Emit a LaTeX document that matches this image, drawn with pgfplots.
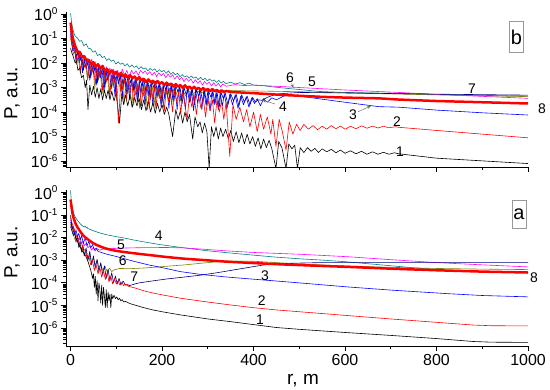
\documentclass[border=0pt]{standalone}
\usepackage{fontspec}
\setmainfont{Liberation Sans}
\usepackage{pgfplots}
\pgfplotsset{compat=1.18}
\usetikzlibrary{arrows.meta}
\newcommand\sct[1]{10\raisebox{6.5bp}{\fontsize{10}{12}\selectfont#1}}
\definecolor{cteal}{RGB}{0,128,128}
\definecolor{cmag}{RGB}{255,0,255}
\definecolor{colive}{RGB}{128,128,0}
\definecolor{cnavy}{RGB}{0,0,128}
\definecolor{cblue}{RGB}{0,0,255}
\definecolor{cred}{RGB}{255,0,0}
\tikzset{
 thinc/.style={line width=0.6bp, line join=round},
 lab/.style={font=\fontsize{14}{16}\selectfont, inner sep=0pt},
 arr/.style={-{Stealth[length=4bp,width=3bp]}, black!55, line width=0.5bp},
}
\pgfplotsset{
 panel/.style={scale only axis, width=462bp, xmin=-10, xmax=1000,
  axis lines*=left, tick align=outside, major tick length=5bp, minor tick length=3bp,
  xtick={0,200,400,600,800,1000}, minor xtick={100,300,500,700,900},
  ytick={-6,-5,-4,-3,-2,-1,0},
  yticklabels={\sct{-6},\sct{-5},\sct{-4},\sct{-3},\sct{-2},\sct{-1},\sct{0}},
  minor ytick={-6.699,-6.523,-6.398,-6.301,-6.222,-6.155,-6.097,-6.046,
   -5.699,-5.523,-5.398,-5.301,-5.222,-5.155,-5.097,-5.046,
   -4.699,-4.523,-4.398,-4.301,-4.222,-4.155,-4.097,-4.046,
   -3.699,-3.523,-3.398,-3.301,-3.222,-3.155,-3.097,-3.046,
   -2.699,-2.523,-2.398,-2.301,-2.222,-2.155,-2.097,-2.046,
   -1.699,-1.523,-1.398,-1.301,-1.222,-1.155,-1.097,-1.046,
   -0.699,-0.523,-0.398,-0.301,-0.222,-0.155,-0.097,-0.046},
  clip mode=individual,
  axis line style={line width=0.9bp},
  tick style={black, line width=0.8bp},
  tick label style={font=\fontsize{16}{18}\selectfont},
 },
}
\begin{document}
\begin{tikzpicture}[x=1bp,y=1bp]
\useasboundingbox (0,0) rectangle (550,389);
% ---------------- panel b (top) ----------------
\begin{axis}[panel, at={(66bp,222bp)}, anchor=south west, height=155bp,
  ymin=-6.24, ymax=0.08, xticklabels={}]
% teal
\addplot[cteal, thinc] coordinates {(0,0.03)(2,-0.3)(4,-0.55)(6,-0.7)(8,-0.82)(10,-0.9)(15,-0.98)(20,-1.12)(24,-1.08)(29,-1.3)(34,-1.22)(39,-1.4)(44,-1.42)(49,-1.56)(54,-1.5)(59,-1.7)(64,-1.64)(69,-1.78)(74,-1.73)(79,-1.9)(84,-1.82)(89,-1.93)(94,-1.88)(99,-2.04)(104,-1.95)(109,-2.05)(114,-2.0)(119,-2.12)(124,-2.03)(129,-2.17)(134,-2.08)(139,-2.18)(144,-2.12)(149,-2.25)(154,-2.15)(159,-2.24)(164,-2.2)(169,-2.32)(174,-2.22)(179,-2.3)(184,-2.24)(189,-2.37)(194,-2.27)(199,-2.36)(204,-2.3)(209,-2.42)(214,-2.32)(219,-2.46)(224,-2.38)(229,-2.48)(234,-2.42)(239,-2.56)(244,-2.47)(249,-2.57)(254,-2.52)(259,-2.62)(264,-2.53)(269,-2.62)(274,-2.57)(279,-2.68)(284,-2.58)(289,-2.69)(294,-2.62)(299,-2.73)(304,-2.65)(309,-2.74)(314,-2.69)(319,-2.79)(324,-2.71)(329,-2.81)(334,-2.75)(340,-2.84)(350,-2.78)(360,-2.86)(370,-2.8)(380,-2.88)(390,-2.82)(400,-2.9)(420,-2.92)(440,-2.97)(471,-3.03)(500,-3.08)(543,-3.16)(600,-3.2)(717,-3.24)(800,-3.28)(900,-3.32)(1000,-3.35)};
% magenta
\addplot[cmag, thinc] coordinates {(0,-0.6)(3,-0.9)(6,-1.2)(10,-1.45)(14,-1.4)(18,-1.75)(22,-1.55)(26,-2.0)(30,-1.7)(34,-1.9)(38,-1.8)(42,-2.2)(46,-1.85)(50,-2.1)(54,-1.95)(58,-2.4)(62,-2.05)(66,-2.3)(70,-2.1)(74,-2.6)(78,-2.15)(82,-2.4)(86,-2.2)(90,-2.7)(94,-2.25)(98,-2.5)(103,-2.3)(108,-2.65)(113,-2.25)(118,-2.5)(123,-2.3)(128,-2.6)(133,-2.3)(138,-2.45)(143,-2.32)(148,-2.5)(153,-2.3)(158,-2.42)(163,-2.32)(168,-2.47)(173,-2.35)(178,-2.5)(183,-2.38)(188,-2.55)(193,-2.4)(198,-2.52)(203,-2.42)(208,-2.6)(213,-2.45)(218,-2.58)(223,-2.48)(228,-2.66)(233,-2.52)(238,-2.68)(243,-2.58)(248,-2.76)(253,-2.62)(258,-2.75)(263,-2.65)(268,-2.82)(273,-2.68)(278,-2.83)(283,-2.72)(288,-2.9)(293,-2.75)(298,-2.87)(303,-2.78)(308,-2.93)(313,-2.8)(318,-2.94)(323,-2.82)(328,-2.97)(333,-2.85)(340,-2.95)(360,-2.88)(380,-2.92)(400,-2.9)(430,-2.93)(471,-2.97)(550,-3.05)(600,-3.1)(717,-3.2)(800,-3.28)(900,-3.36)(1000,-3.44)};
% olive
\addplot[colive, thinc] coordinates {(0,-1.0)(3,-1.3)(6,-1.65)(9,-1.5)(13,-2.05)(17,-1.75)(21,-2.4)(25,-1.95)(29,-2.2)(33,-2.05)(37,-2.7)(41,-2.1)(45,-2.5)(49,-2.2)(53,-3.05)(57,-2.3)(61,-2.7)(65,-2.35)(69,-3.25)(73,-2.45)(77,-2.85)(81,-2.5)(85,-3.4)(89,-2.55)(93,-3.0)(97,-2.6)(101,-3.55)(105,-2.65)(109,-3.15)(113,-2.7)(117,-3.65)(121,-2.72)(125,-3.25)(129,-2.75)(134,-3.8)(138,-2.8)(142,-3.3)(146,-2.82)(151,-3.85)(155,-2.85)(159,-3.35)(163,-2.88)(168,-3.9)(172,-2.9)(176,-3.4)(180,-2.92)(185,-3.85)(189,-2.95)(194,-3.45)(198,-2.98)(203,-3.8)(207,-3.0)(212,-3.4)(216,-3.02)(221,-3.7)(225,-3.05)(230,-3.35)(234,-3.08)(240,-3.55)(245,-3.1)(252,-3.35)(258,-3.12)(266,-3.3)(275,-3.14)(290,-3.22)(300,-3.12)(320,-3.15)(340,-3.12)(400,-3.14)(500,-3.17)(600,-3.22)(800,-3.3)(1000,-3.37)};
% navy
\addplot[cnavy, thinc] coordinates {(0,-0.7)(3,-1.05)(6,-1.35)(9,-1.2)(13,-1.75)(17,-1.5)(21,-1.9)(24,-1.6)(28,-2.3)(32,-1.75)(36,-2.1)(40,-1.85)(44,-2.6)(48,-1.95)(52,-2.3)(55,-2.05)(59,-2.8)(63,-2.1)(67,-2.45)(71,-2.15)(75,-3.0)(79,-2.25)(83,-2.55)(87,-2.3)(91,-2.75)(95,-2.35)(99,-3.2)(103,-2.4)(107,-2.7)(111,-2.45)(115,-2.9)(119,-2.45)(123,-3.3)(127,-2.5)(131,-2.8)(135,-2.55)(139,-3.1)(143,-2.6)(148,-3.4)(152,-2.65)(156,-2.95)(160,-2.65)(165,-3.2)(169,-2.7)(174,-3.5)(178,-2.75)(182,-3.0)(186,-2.75)(191,-3.35)(195,-2.8)(200,-3.6)(204,-2.85)(208,-3.1)(212,-2.85)(217,-3.45)(221,-2.9)(226,-3.55)(230,-2.92)(235,-3.2)(239,-2.95)(244,-3.65)(248,-3.0)(253,-3.3)(257,-3.0)(262,-3.55)(266,-3.05)(271,-3.7)(275,-3.08)(280,-3.35)(284,-3.1)(289,-3.6)(293,-3.12)(298,-3.75)(302,-3.15)(307,-3.4)(311,-3.15)(316,-3.65)(320,-3.18)(325,-3.8)(329,-3.2)(334,-3.45)(338,-3.22)(344,-3.7)(350,-3.25)(356,-3.55)(362,-3.28)(368,-3.75)(374,-3.3)(380,-3.6)(386,-3.35)(392,-3.7)(398,-3.4)(404,-3.6)(410,-3.5)(418,-3.52)(430,-3.4)(445,-3.3)(460,-3.25)(500,-3.2)(600,-3.22)(800,-3.27)(1000,-3.31)};
% blue
\addplot[cblue, thinc] coordinates {(0,-0.8)(2,-1.1)(5,-1.5)(8,-1.3)(12,-1.9)(16,-1.5)(19,-2.0)(23,-1.7)(26,-2.4)(30,-1.8)(34,-2.25)(38,-1.95)(42,-2.7)(46,-2.0)(50,-2.45)(54,-2.1)(57,-2.9)(61,-2.15)(65,-2.6)(69,-2.25)(73,-3.2)(77,-2.3)(81,-2.7)(85,-2.35)(89,-3.05)(93,-2.4)(97,-3.35)(101,-2.45)(105,-2.85)(109,-2.5)(113,-3.4)(117,-2.55)(121,-3.0)(125,-2.55)(129,-3.5)(133,-2.6)(137,-3.15)(141,-2.65)(146,-3.6)(150,-2.7)(154,-3.25)(158,-2.72)(163,-3.7)(167,-2.75)(171,-3.3)(176,-2.78)(180,-3.75)(184,-2.8)(189,-3.4)(193,-2.85)(198,-3.8)(202,-2.88)(206,-3.45)(210,-2.9)(215,-3.85)(219,-2.92)(224,-3.5)(228,-2.95)(233,-3.9)(237,-2.98)(242,-3.55)(246,-3.0)(251,-3.9)(255,-3.02)(260,-3.6)(264,-3.05)(269,-3.95)(273,-3.08)(278,-3.65)(282,-3.1)(287,-3.9)(291,-3.12)(296,-3.7)(300,-3.15)(305,-3.95)(309,-3.18)(314,-3.7)(318,-3.2)(323,-3.9)(327,-3.22)(332,-3.75)(336,-3.25)(342,-3.85)(348,-3.28)(354,-3.7)(360,-3.3)(366,-3.85)(372,-3.35)(378,-3.7)(384,-3.38)(390,-3.8)(396,-3.42)(402,-3.65)(408,-3.45)(415,-3.75)(422,-3.45)(430,-3.6)(440,-3.42)(450,-3.5)(471,-3.3)(500,-3.35)(600,-3.6)(674,-3.78)(717,-3.8)(800,-3.92)(900,-4.03)(1000,-4.12)};
% black (1)
\addplot[black, thinc] coordinates {(0,-1.4)(3,-1.6)(6,-1.74)(10,-2.0)(13,-1.9)(16,-2.3)(20,-2.2)(24,-2.6)(28,-2.5)(32,-3.0)(35,-2.7)(38,-3.9)(42,-2.9)(46,-3.3)(50,-2.95)(54,-3.4)(58,-3.0)(62,-3.45)(66,-3.05)(70,-3.5)(74,-3.1)(78,-3.45)(82,-3.1)(86,-3.5)(90,-3.15)(95,-3.55)(100,-3.2)(107,-4.45)(112,-3.25)(116,-3.7)(120,-3.3)(125,-3.75)(130,-3.3)(135,-3.8)(140,-3.4)(145,-3.75)(150,-3.45)(155,-3.9)(160,-3.5)(165,-3.95)(170,-3.55)(175,-4.0)(180,-3.6)(185,-4.05)(190,-3.65)(195,-4.0)(200,-3.7)(205,-4.1)(210,-3.8)(215,-4.1)(223,-5.0)(230,-3.9)(235,-4.3)(240,-3.95)(245,-4.45)(250,-4.0)(255,-4.4)(260,-4.1)(267,-5.1)(272,-4.2)(278,-4.6)(283,-4.4)(288,-4.85)(293,-4.45)(298,-4.8)(303,-6.3)(308,-4.6)(313,-5.0)(318,-4.6)(323,-5.1)(328,-4.65)(333,-5.0)(339,-4.7)(345,-5.1)(350,-4.75)(356,-5.2)(362,-4.8)(368,-5.25)(374,-4.85)(380,-5.3)(386,-4.9)(392,-5.3)(398,-5.0)(404,-5.4)(410,-5.05)(416,-5.5)(422,-5.1)(428,-5.45)(434,-5.15)(440,-5.5)(449,-6.3)(455,-5.2)(462,-5.45)(471,-6.3)(477,-5.3)(484,-5.5)(490,-5.35)(496,-6.3)(502,-5.45)(510,-5.65)(518,-5.45)(526,-5.6)(534,-5.48)(542,-5.65)(550,-5.5)(560,-5.62)(570,-5.52)(580,-5.66)(590,-5.55)(600,-5.68)(612,-5.58)(624,-5.7)(636,-5.6)(648,-5.72)(660,-5.62)(672,-5.72)(684,-5.64)(696,-5.72)(708,-5.66)(717,-5.7)(800,-5.88)(900,-5.99)(1000,-6.1)};
% red thin (2)
\addplot[cred, thinc] coordinates {(0,-0.9)(3,-1.2)(6,-1.5)(10,-1.45)(14,-1.9)(18,-1.65)(22,-2.3)(26,-1.85)(30,-2.15)(34,-2.0)(38,-2.6)(42,-2.05)(46,-2.4)(50,-2.15)(54,-2.85)(58,-2.2)(62,-2.6)(66,-2.3)(70,-3.1)(74,-2.35)(78,-2.75)(82,-2.4)(86,-3.3)(90,-2.5)(94,-2.9)(98,-2.55)(105,-4.45)(110,-2.6)(114,-3.1)(118,-2.65)(122,-3.5)(126,-2.7)(130,-3.2)(134,-2.75)(138,-3.7)(142,-2.8)(146,-3.3)(150,-2.85)(155,-3.75)(159,-2.88)(163,-3.35)(167,-2.9)(172,-3.85)(176,-2.95)(180,-3.45)(184,-2.95)(187,-3.8)(191,-3.0)(196,-3.5)(200,-3.02)(205,-3.95)(209,-3.05)(214,-3.55)(218,-3.08)(223,-4.0)(227,-3.1)(232,-3.6)(236,-3.15)(241,-4.05)(245,-3.2)(250,-3.7)(255,-4.3)(260,-3.25)(265,-3.8)(270,-3.3)(275,-4.1)(280,-3.35)(285,-3.85)(290,-3.4)(295,-4.2)(300,-3.45)(305,-3.95)(310,-3.5)(315,-4.45)(320,-3.5)(325,-4.0)(330,-3.55)(335,-4.3)(340,-3.6)(348,-5.8)(355,-3.7)(362,-4.3)(370,-3.8)(378,-4.4)(385,-3.9)(392,-4.6)(400,-4.0)(408,-4.8)(415,-4.1)(422,-4.7)(430,-4.2)(438,-4.9)(442,-4.3)(449,-5.4)(456,-4.3)(463,-4.8)(471,-5.55)(478,-4.4)(486,-4.9)(494,-4.5)(502,-4.75)(510,-4.5)(520,-4.7)(530,-4.55)(540,-4.72)(550,-4.58)(560,-4.7)(570,-4.55)(580,-4.68)(590,-4.57)(600,-4.7)(612,-4.58)(624,-4.68)(636,-4.56)(648,-4.66)(660,-4.57)(672,-4.65)(684,-4.58)(696,-4.64)(710,-4.6)(717,-4.62)(800,-4.75)(900,-4.9)(1000,-5.05)};
% red thick (8)
\addplot[cred, line width=2.5bp, line join=round] coordinates {(0,-0.35)(2,-0.65)(5,-1.0)(10,-1.3)(15,-1.55)(20,-1.55)(25,-1.75)(30,-1.72)(35,-1.92)(40,-1.88)(45,-2.05)(50,-1.97)(55,-2.15)(60,-2.05)(65,-2.22)(70,-2.12)(75,-2.32)(80,-2.25)(85,-2.42)(90,-2.3)(95,-2.45)(100,-2.36)(105,-2.52)(110,-2.4)(115,-2.54)(120,-2.47)(125,-2.6)(130,-2.5)(135,-2.62)(140,-2.55)(145,-2.68)(150,-2.58)(155,-2.7)(160,-2.64)(165,-2.78)(170,-2.67)(175,-2.78)(180,-2.72)(185,-2.84)(190,-2.74)(195,-2.84)(200,-2.78)(205,-2.9)(210,-2.8)(215,-2.9)(220,-2.84)(225,-2.96)(230,-2.86)(235,-2.96)(240,-2.9)(245,-3.01)(250,-2.91)(255,-3.02)(260,-2.96)(265,-3.06)(270,-2.97)(275,-3.07)(280,-3.01)(285,-3.11)(290,-3.02)(295,-3.11)(300,-3.06)(305,-3.15)(310,-3.06)(315,-3.15)(320,-3.1)(325,-3.19)(330,-3.11)(335,-3.19)(340,-3.14)(350,-3.18)(370,-3.2)(400,-3.23)(471,-3.31)(550,-3.38)(600,-3.41)(674,-3.44)(717,-3.49)(800,-3.55)(900,-3.6)(1000,-3.65)};
\node[lab] at (axis cs:479.7,-2.61) {6};
\node[lab] at (axis cs:527.8,-2.77) {5};
\node[lab] at (axis cs:877.6,-3.06) {7};
\node[lab] at (axis cs:1030.7,-3.87) {8};
\node[lab] at (axis cs:464.4,-3.79) {4};
\node[lab] at (axis cs:617.5,-4.12) {3};
\node[lab] at (axis cs:713.6,-4.40) {2};
\node[lab] at (axis cs:720.2,-5.63) {1};
\draw[arr] (axis cs:446.9,-3.67) -- (axis cs:418.5,-3.51);
\draw[arr] (axis cs:628.4,-3.99) -- (axis cs:656.8,-3.75);
\draw[arr] (axis cs:483,-2.83) -- (axis cs:487,-3.02);
\end{axis}
% ---------------- panel a (bottom) ----------------
\begin{axis}[panel, at={(66bp,43bp)}, anchor=south west, height=156bp,
  ymin=-6.8, ymax=0.12, xticklabels={0,200,400,600,800,1000}]
% teal (4)
\addplot[cteal, thinc] coordinates {(0,0.1)(1,-0.2)(2,-0.45)(4,-0.7)(6,-0.85)(8,-0.98)(10,-1.07)(12,-1.13)(14,-1.2)(16,-1.25)(18,-1.3)(20,-1.35)(22,-1.4)(24,-1.43)(26,-1.47)(28,-1.5)(30,-1.52)(32,-1.48)(34,-1.55)(36,-1.53)(38,-1.6)(40,-1.6)(45,-1.65)(50,-1.69)(55,-1.72)(60,-1.76)(70,-1.82)(80,-1.87)(100,-1.95)(120,-2.02)(136,-2.09)(160,-2.18)(195,-2.3)(220,-2.37)(253,-2.46)(297,-2.57)(341,-2.66)(400,-2.77)(450,-2.86)(500,-2.93)(550,-2.99)(600,-3.06)(650,-3.15)(700,-3.24)(750,-3.33)(800,-3.41)(850,-3.47)(900,-3.51)(950,-3.53)(1000,-3.54)};
% magenta (5)
\addplot[cmag, thinc] coordinates {(0,-1.2)(3,-1.45)(6,-1.65)(9,-1.75)(12,-1.95)(15,-1.9)(18,-2.1)(21,-2.0)(24,-2.25)(27,-2.15)(30,-2.35)(34,-2.25)(38,-2.45)(42,-2.35)(46,-2.55)(50,-2.42)(54,-2.58)(58,-2.48)(63,-2.55)(70,-2.5)(80,-2.5)(90,-2.48)(107,-2.46)(150,-2.44)(209,-2.43)(250,-2.45)(300,-2.52)(341,-2.58)(400,-2.65)(450,-2.69)(500,-2.73)(550,-2.78)(606,-2.84)(700,-2.97)(800,-3.1)(900,-3.2)(1000,-3.29)};
% olive (6)
\addplot[colive, thinc] coordinates {(0,-1.4)(3,-1.65)(6,-1.85)(9,-2.05)(12,-2.2)(15,-2.1)(18,-2.45)(21,-2.3)(24,-2.65)(27,-2.45)(30,-2.8)(34,-2.6)(38,-2.95)(42,-2.75)(46,-3.1)(50,-2.9)(54,-3.2)(58,-3.0)(62,-3.35)(66,-3.15)(70,-3.45)(75,-3.25)(80,-3.5)(85,-3.35)(90,-3.5)(95,-3.42)(100,-3.4)(107,-3.36)(130,-3.37)(160,-3.34)(200,-3.28)(250,-3.2)(300,-3.1)(341,-3.03)(400,-3.04)(450,-3.1)(500,-3.16)(606,-3.25)(700,-3.31)(800,-3.36)(900,-3.39)(1000,-3.41)};
% navy (7)
\addplot[cnavy, thinc] coordinates {(0,-1.5)(3,-1.7)(6,-1.9)(9,-1.75)(12,-2.15)(15,-1.95)(18,-2.4)(21,-2.15)(24,-2.6)(27,-2.3)(30,-2.8)(34,-2.45)(38,-3.0)(42,-2.6)(46,-3.2)(50,-2.8)(54,-3.35)(58,-2.95)(62,-3.5)(66,-3.1)(70,-3.65)(74,-3.25)(78,-3.8)(82,-3.4)(86,-3.9)(90,-3.55)(94,-4.0)(98,-3.7)(102,-4.05)(106,-3.8)(110,-4.08)(115,-3.92)(120,-4.1)(125,-4.08)(129,-4.12)(140,-4.05)(150,-4.0)(173,-3.93)(209,-3.83)(240,-3.76)(283,-3.66)(320,-3.55)(370,-3.38)(423,-3.2)(480,-3.13)(550,-3.1)(700,-3.1)(850,-3.1)(1000,-3.1)};
% blue (3)
\addplot[cblue, thinc] coordinates {(0,-1.3)(3,-1.55)(6,-1.5)(9,-1.8)(12,-1.65)(15,-1.95)(18,-1.8)(21,-2.1)(24,-1.9)(28,-2.25)(32,-2.0)(36,-2.35)(40,-2.15)(44,-2.45)(48,-2.3)(52,-2.55)(56,-2.45)(60,-2.6)(70,-2.67)(80,-2.73)(100,-2.83)(136,-3.03)(170,-3.2)(209,-3.36)(240,-3.5)(283,-3.62)(341,-3.74)(427,-3.88)(500,-4.0)(606,-4.18)(700,-4.32)(826,-4.48)(900,-4.56)(1000,-4.62)};
% black (1)
\addplot[black, thinc] coordinates {(0,-1.0)(3,-1.5)(6,-1.7)(10,-1.9)(14,-2.1)(18,-2.3)(22,-2.45)(26,-2.6)(30,-2.7)(34,-2.85)(38,-3.05)(42,-3.3)(45,-3.5)(48,-3.8)(50,-3.6)(52,-4.2)(54,-3.7)(56,-4.5)(58,-3.9)(60,-4.8)(62,-4.0)(64,-4.3)(66,-4.9)(68,-4.1)(70,-5.0)(72,-4.2)(74,-4.6)(76,-5.1)(78,-4.3)(80,-5.1)(82,-4.4)(84,-4.8)(86,-4.5)(88,-5.1)(90,-4.5)(92,-4.7)(95,-4.55)(98,-4.7)(101,-4.62)(104,-4.75)(107,-4.68)(110,-4.8)(113,-4.74)(116,-4.85)(120,-4.82)(130,-4.92)(140,-4.98)(160,-5.1)(180,-5.2)(200,-5.28)(240,-5.42)(300,-5.6)(350,-5.72)(400,-5.85)(450,-5.98)(500,-6.06)(600,-6.2)(700,-6.33)(800,-6.47)(880,-6.6)(920,-6.63)(1000,-6.64)};
% red thin (2)
\addplot[cred, thinc] coordinates {(0,-1.1)(4,-1.4)(8,-1.6)(12,-1.9)(16,-2.0)(20,-2.3)(24,-2.2)(28,-2.6)(32,-2.5)(36,-2.9)(40,-2.8)(44,-3.2)(48,-3.0)(52,-3.45)(56,-3.2)(60,-3.6)(64,-3.3)(68,-3.75)(72,-3.45)(76,-3.85)(80,-3.55)(84,-3.95)(88,-3.7)(92,-4.05)(96,-3.8)(100,-4.05)(104,-3.9)(108,-4.1)(112,-3.98)(116,-4.12)(120,-4.05)(126,-4.15)(132,-4.18)(140,-4.22)(160,-4.35)(180,-4.45)(200,-4.53)(240,-4.68)(300,-4.85)(350,-4.98)(400,-5.1)(450,-5.2)(500,-5.28)(600,-5.44)(700,-5.6)(800,-5.75)(880,-5.87)(920,-5.9)(1000,-5.91)};
% red thick (8)
\addplot[cred, line width=2.5bp, line join=round] coordinates {(0,-0.3)(1,-0.45)(2,-0.62)(4,-0.9)(6,-1.08)(8,-1.2)(10,-1.32)(12,-1.42)(15,-1.53)(18,-1.62)(21,-1.72)(24,-1.8)(28,-1.9)(32,-1.98)(36,-2.04)(41,-2.12)(48,-2.22)(56,-2.31)(63,-2.37)(72,-2.44)(80,-2.49)(90,-2.54)(100,-2.58)(120,-2.64)(136,-2.68)(170,-2.76)(209,-2.85)(250,-2.93)(300,-3.0)(341,-3.06)(400,-3.12)(450,-3.17)(500,-3.21)(550,-3.25)(606,-3.29)(700,-3.37)(800,-3.44)(900,-3.5)(1000,-3.54)};
\node[lab] at (axis cs:192.7,-1.92) {4};
\node[lab] at (axis cs:110.2,-2.31) {5};
\node[lab] at (axis cs:114,-3.02) {6};
\node[lab] at (axis cs:139.3,-3.71) {7};
\node[lab] at (axis cs:425,-3.68) {3};
\node[lab] at (axis cs:417.9,-4.80) {2};
\node[lab] at (axis cs:414.1,-5.65) {1};
\node[lab] at (axis cs:1013,-3.77) {8};
\end{axis}
% outside texts
\node[draw=black!40, line width=0.6bp, font=\fontsize{20}{22}\selectfont, inner xsep=1.5bp, inner ysep=0pt, minimum height=31bp] at (516.5,352) {b};
\node[draw=black!40, line width=0.6bp, font=\fontsize{20}{22}\selectfont, inner xsep=1.5bp, inner ysep=0pt, minimum height=28bp] at (519,175) {a};
\node[rotate=90, font=\fontsize{19}{22}\selectfont] at (12,296) {P, a.u.};
\node[rotate=90, font=\fontsize{19}{22}\selectfont] at (12,136.5) {P, a.u.};
\node[anchor=base, font=\fontsize{19}{22}\selectfont] at (303,5) {r, m};
\end{tikzpicture}
\end{document}
